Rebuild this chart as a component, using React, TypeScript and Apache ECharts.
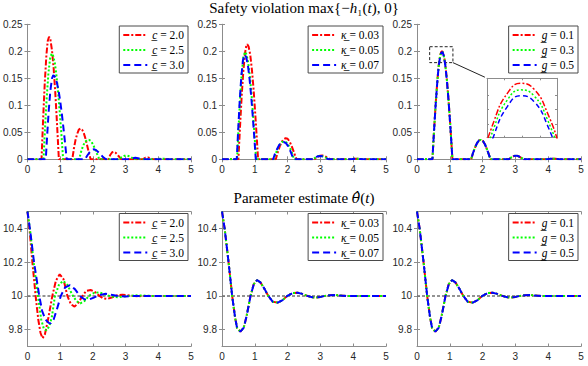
import React, { useEffect, useRef } from 'react';
import * as echarts from 'echarts';

const W = 588;
const H = 366;

// ---------- tick labels ----------
const timeTicks = [0, 1, 2, 3, 4, 5];
const violTicks = [0, 0.05, 0.1, 0.15, 0.2, 0.25];
const thetaTicks = [9.8, 10, 10.2, 10.4];
const thetaTrue = 10;

// ---------- legend labels ----------
const cValues = ['2.0', '2.5', '3.0'];
const kappaValues = ['0.03', '0.05', '0.07'];
const gValues = ['0.1', '0.3', '0.5'];

// ---------- safety violation max{-h1(t),0}: varying c ----------
const violC20 = [[0,0],[0.43,0],[0.48,0.076],[0.53,0.143],[0.58,0.194],[0.62,0.219],[0.66,0.227],[0.70,0.222],[0.75,0.202],[0.80,0.169],[0.85,0.124],[0.90,0.070],[0.93,0.035],[0.96,0],
  [1.37,0],[1.42,0.020],[1.47,0.036],[1.52,0.047],[1.57,0.055],[1.62,0.057],[1.67,0.055],[1.72,0.049],[1.77,0.039],[1.82,0.027],[1.87,0.014],[1.93,0],
  [2.47,0],[2.53,0.008],[2.59,0.013],[2.64,0.014],[2.70,0.012],[2.77,0.007],[2.84,0.002],[2.88,0],
  [3.52,0],[3.60,0.0028],[3.68,0.0035],[3.76,0.0022],[3.84,0],[5,0]];
const violC25 = [[0,0],[0.49,0],[0.54,0.061],[0.59,0.115],[0.64,0.159],[0.69,0.186],[0.74,0.196],[0.79,0.191],[0.84,0.177],[0.89,0.153],[0.94,0.122],[0.99,0.085],[1.04,0.044],[1.09,0],
  [1.58,0],[1.64,0.014],[1.70,0.025],[1.76,0.032],[1.82,0.0355],[1.88,0.036],[1.94,0.034],[2.00,0.028],[2.06,0.020],[2.12,0.011],[2.20,0],
  [2.80,0],[2.88,0.004],[2.96,0.0065],[3.04,0.007],[3.12,0.0055],[3.20,0.0025],[3.27,0],
  [3.95,0],[4.05,0.001],[4.15,0.0012],[4.25,0.0007],[4.33,0],[5,0]];
const violC30 = [[0,0],[0.56,0],[0.60,0.042],[0.65,0.090],[0.70,0.127],[0.75,0.150],[0.79,0.156],[0.85,0.152],[0.90,0.142],[0.95,0.128],[1.00,0.108],[1.05,0.085],[1.10,0.058],[1.15,0.030],[1.20,0],
  [1.76,0],[1.83,0.007],[1.90,0.013],[1.96,0.017],[2.03,0.0185],[2.10,0.017],[2.17,0.013],[2.24,0.009],[2.31,0.004],[2.40,0],
  [3.12,0],[3.22,0.002],[3.30,0.003],[3.38,0.002],[3.48,0],[5,0]];

// ---------- safety violation: varying kappa ----------
const violK003 = [[0,0],[0.50,0],[0.55,0.061],[0.60,0.117],[0.65,0.163],[0.70,0.196],[0.74,0.210],[0.77,0.213],[0.81,0.209],[0.86,0.194],[0.91,0.167],[0.96,0.132],[1.01,0.088],[1.06,0.040],[1.10,0],
  [1.64,0],[1.70,0.013],[1.76,0.024],[1.82,0.032],[1.88,0.037],[1.94,0.039],[2.00,0.038],[2.06,0.033],[2.12,0.025],[2.18,0.015],[2.27,0],
  [2.82,0],[2.90,0.004],[2.98,0.0065],[3.06,0.0072],[3.14,0.0058],[3.22,0.003],[3.30,0],
  [3.92,0],[4.02,0.0008],[4.12,0.0012],[4.22,0.0008],[4.32,0],[5,0]];
const violK005 = [[0,0],[0.46,0],[0.50,0.052],[0.55,0.111],[0.60,0.158],[0.65,0.188],[0.70,0.199],[0.75,0.194],[0.80,0.178],[0.85,0.153],[0.90,0.120],[0.95,0.080],[1.00,0.037],[1.04,0],
  [1.58,0],[1.64,0.011],[1.70,0.020],[1.76,0.027],[1.83,0.032],[1.90,0.033],[1.97,0.031],[2.04,0.025],[2.10,0.017],[2.15,0.009],[2.20,0],
  [2.78,0],[2.86,0.0037],[2.94,0.006],[3.02,0.0065],[3.10,0.005],[3.18,0.0025],[3.26,0],
  [3.90,0],[4.00,0.0008],[4.10,0.0011],[4.20,0.0007],[4.30,0],[5,0]];
const violK007 = [[0,0],[0.45,0],[0.49,0.050],[0.54,0.108],[0.59,0.154],[0.64,0.184],[0.69,0.194],[0.74,0.189],[0.79,0.174],[0.84,0.149],[0.89,0.117],[0.94,0.078],[0.99,0.036],[1.03,0],
  [1.56,0],[1.62,0.011],[1.68,0.019],[1.74,0.026],[1.81,0.031],[1.88,0.032],[1.95,0.030],[2.02,0.024],[2.08,0.016],[2.13,0.008],[2.18,0],
  [2.77,0],[2.85,0.0035],[2.93,0.0058],[3.01,0.0062],[3.09,0.0048],[3.17,0.0024],[3.25,0],
  [3.90,0],[4.00,0.0007],[4.10,0.001],[4.20,0.0007],[4.30,0],[5,0]];

// ---------- safety violation: varying g ----------
const violG01 = [[0,0],[0.47,0],[0.52,0.054],[0.57,0.103],[0.62,0.145],[0.66,0.173],[0.70,0.1900],[0.72,0.1955],[0.74,0.1988],[0.76,0.2000],[0.78,0.1993],[0.80,0.1965],[0.82,0.1917],[0.86,0.1770],[0.91,0.148],[0.96,0.111],[1.01,0.0675],[1.05,0.0294],[1.08,0],
  [1.65,0],[1.71,0.012],[1.77,0.022],[1.83,0.030],[1.89,0.035],[1.95,0.036],[2.01,0.034],[2.07,0.028],[2.13,0.019],[2.19,0.009],[2.24,0],
  [2.80,0],[2.88,0.0038],[2.96,0.0062],[3.03,0.0068],[3.10,0.0055],[3.18,0.0028],[3.26,0],
  [3.95,0],[4.05,0.0008],[4.15,0.0012],[4.25,0.0008],[4.35,0],[5,0]];
const violG03 = [[0,0],[0.47,0],[0.52,0.0535],[0.57,0.1026],[0.62,0.1444],[0.66,0.1723],[0.70,0.1892],[0.72,0.1947],[0.74,0.1980],[0.76,0.1992],[0.78,0.1985],[0.80,0.1957],[0.82,0.1909],[0.86,0.1763],[0.91,0.1474],[0.96,0.1106],[1.01,0.0672],[1.05,0.0293],[1.08,0],
  [1.65,0],[1.71,0.012],[1.77,0.022],[1.83,0.030],[1.89,0.035],[1.95,0.036],[2.01,0.034],[2.07,0.028],[2.13,0.019],[2.19,0.009],[2.24,0],
  [2.80,0],[2.88,0.0038],[2.96,0.0062],[3.03,0.0068],[3.10,0.0055],[3.18,0.0028],[3.26,0],
  [3.95,0],[4.05,0.0008],[4.15,0.0012],[4.25,0.0008],[4.35,0],[5,0]];
const violG05 = [[0,0],[0.47,0],[0.52,0.0532],[0.57,0.1022],[0.62,0.1439],[0.66,0.1717],[0.70,0.1884],[0.72,0.1938],[0.74,0.1972],[0.76,0.1985],[0.78,0.1978],[0.80,0.1950],[0.82,0.1902],[0.86,0.1756],[0.91,0.1469],[0.96,0.1102],[1.01,0.0670],[1.05,0.0292],[1.08,0],
  [1.65,0],[1.71,0.012],[1.77,0.022],[1.83,0.030],[1.89,0.035],[1.95,0.036],[2.01,0.034],[2.07,0.028],[2.13,0.019],[2.19,0.009],[2.24,0],
  [2.80,0],[2.88,0.0038],[2.96,0.0062],[3.03,0.0068],[3.10,0.0055],[3.18,0.0028],[3.26,0],
  [3.95,0],[4.05,0.0008],[4.15,0.0012],[4.25,0.0008],[4.35,0],[5,0]];

// ---------- parameter estimate theta_hat(t): varying c ----------
const thetaC20 = [[0,10.5],[0.07,10.38],[0.15,10.2],[0.25,10.0],[0.33,9.86],[0.40,9.78],[0.46,9.749],[0.53,9.77],[0.62,9.85],[0.76,10.0],[0.87,10.09],[0.985,10.128],[1.10,10.10],[1.22,10.0],[1.33,9.95],[1.44,9.936],[1.56,9.96],[1.68,10.0],[1.80,10.03],[1.93,10.035],[2.05,10.025],[2.20,10.0],[2.32,9.985],[2.44,9.982],[2.60,9.992],[2.75,10.004],[2.90,10.007],[3.05,10.004],[3.20,10.0],[3.40,9.998],[3.60,10.0],[5,10.0]];
const thetaC25 = [[0,10.5],[0.08,10.39],[0.20,10.18],[0.32,10.0],[0.42,9.86],[0.50,9.805],[0.58,9.795],[0.67,9.82],[0.75,9.88],[0.84,10.0],[0.97,10.07],[1.10,10.088],[1.22,10.065],[1.39,10.0],[1.50,9.968],[1.62,9.956],[1.75,9.97],[1.88,10.0],[2.03,10.017],[2.18,10.021],[2.33,10.012],[2.50,10.0],[2.65,9.993],[2.80,9.992],[2.95,9.996],[3.10,10.0],[3.30,10.003],[3.50,10.002],[3.80,10.0],[5,10.0]];
const thetaC30 = [[0,10.5],[0.08,10.39],[0.20,10.2],[0.36,10.0],[0.45,9.91],[0.55,9.86],[0.65,9.84],[0.71,9.837],[0.80,9.86],[0.90,9.92],[1.02,10.0],[1.15,10.05],[1.30,10.064],[1.45,10.04],[1.60,10.0],[1.74,9.98],[1.88,9.978],[2.03,9.99],[2.20,10.005],[2.39,10.012],[2.60,10.005],[2.80,9.998],[3.00,9.997],[3.30,10.0],[5,10.0]];

// ---------- theta_hat(t) with varying kappa and g (the three curves coincide) ----------
const thetaNominal = [[0,10.5],[0.08,10.4],[0.20,10.2],[0.31,10.0],[0.40,9.87],[0.46,9.81],[0.56,9.788],[0.66,9.81],[0.75,9.88],[0.87,10.0],[0.97,10.07],[1.07,10.094],[1.17,10.08],[1.30,10.04],[1.41,10.0],[1.55,9.965],[1.70,9.96],[1.85,9.975],[1.99,10.0],[2.15,10.016],[2.30,10.019],[2.45,10.012],[2.60,10.0],[2.75,9.992],[2.86,9.99],[3.00,9.994],[3.15,10.0],[3.30,10.004],[3.45,10.005],[3.60,10.002],[3.80,9.999],[4.00,9.999],[4.30,10.0],[5,10.0]];
const thetaK003 = thetaNominal;
const thetaK005 = thetaNominal;
const thetaK007 = thetaNominal;
const thetaG01 = thetaNominal;
const thetaG03 = thetaNominal;
const thetaG05 = thetaNominal;

// ---------- zoom inset window (data range shown in the inset) ----------
const insetX = [0.709, 0.815];
const insetY = [0.1934, 0.2006];
const insetXTicks = [0.735, 0.762, 0.789];
const insetYTicks = [0.195, 0.1968, 0.1986];
const zoomBox = [[0.386, 0.2085], [1.095, 0.179]];
const zoomArrow = [[1.095, 0.179], [2.07, 0.152]];

const COLORS = ['#ff0000', '#00ff00', '#0000ff'];
const DASHES: number[][] = [[6, 2, 2, 2], [2, 2], [7, 4]];
const AXIS = '#8c8c8c';
const TXT = '#262626';
const SERIF = '"Liberation Serif", "DejaVu Serif", serif';
const SANS = '"Liberation Sans", Arial, sans-serif';

const colLeft = [27, 222, 417];
const PW = 164;
const rowTop = [24.3, 211.5];
const PH = 135;

const mkNames = (sym: string, vals: string[]) => vals.map((v) => `${sym}\u0332 = ${v}`);
const cNames = mkNames('c', cValues);
const kNames = mkNames('\u03ba', kappaValues);
const gNames = mkNames('g', gValues);

const panels = [
  { names: cNames, data: [violC20, violC25, violC30], row: 0 },
  { names: kNames, data: [violK003, violK005, violK007], row: 0 },
  { names: gNames, data: [violG01, violG03, violG05], row: 0 },
  { names: cNames, data: [thetaC20, thetaC25, thetaC30], row: 1 },
  { names: kNames, data: [thetaK003, thetaK005, thetaK007], row: 1 },
  { names: gNames, data: [thetaG01, thetaG03, thetaG05], row: 1 },
];

function buildOption() {
  const grid: any[] = [];
  const xAxis: any[] = [];
  const yAxis: any[] = [];
  const series: any[] = [];
  const legend: any[] = [];

  const lineAx = { show: true, lineStyle: { color: AXIS, width: 1 } };
  const tickIn = { show: true, inside: true, length: 3, lineStyle: { color: AXIS, width: 1 } };
  const lbl = { color: TXT, fontSize: 10, fontFamily: SANS, margin: 5 };

  panels.forEach((p, i) => {
    const col = i % 3;
    grid.push({ left: colLeft[col], top: rowTop[p.row], width: PW, height: PH });
    const xBase = { type: 'value', gridIndex: i, min: timeTicks[0], max: timeTicks[timeTicks.length - 1], interval: 1, splitLine: { show: false }, axisLine: lineAx };
    xAxis.push({ ...xBase, position: 'bottom', axisTick: tickIn, axisLabel: lbl });
    xAxis.push({ ...xBase, position: 'top', axisTick: tickIn, axisLabel: { show: false } });
    const yBase =
      p.row === 0
        ? { type: 'value', gridIndex: i, min: violTicks[0], max: violTicks[violTicks.length - 1], interval: 0.05, splitLine: { show: false }, axisLine: lineAx }
        : { type: 'value', gridIndex: i, min: 9.7, max: 10.5, splitLine: { show: false }, axisLine: lineAx };
    const tick = p.row === 0 ? tickIn : { ...tickIn, customValues: thetaTicks };
    const lab = p.row === 0 ? lbl : { ...lbl, customValues: thetaTicks };
    yAxis.push({ ...yBase, position: 'left', axisTick: tick, axisLabel: lab });
    yAxis.push({ ...yBase, position: 'right', axisTick: tick, axisLabel: { show: false } });

    if (p.row === 1) {
      series.push({
        type: 'line', xAxisIndex: 2 * i, yAxisIndex: 2 * i, name: 'true',
        data: [[0, thetaTrue], [5, thetaTrue]], symbol: 'none', silent: true,
        lineStyle: { color: '#707070', width: 1.5, type: [3, 2] }, z: 1,
      });
    }
    p.names.forEach((nm, k) => {
      const s: any = {
        type: 'line', name: nm, xAxisIndex: 2 * i, yAxisIndex: 2 * i,
        data: p.data[k], symbol: 'none', showSymbol: false, silent: true,
        lineStyle: { color: COLORS[k], width: 2, type: DASHES[k] },
        itemStyle: { color: COLORS[k] }, z: 2 + k,
      };
      if (i === 2 && k === 2) {
        s.markArea = {
          silent: true,
          itemStyle: { color: 'rgba(0,0,0,0)', borderColor: '#222', borderWidth: 1, borderType: [3, 2] },
          data: [[{ coord: zoomBox[0] }, { coord: zoomBox[1] }]],
        };
        s.markLine = {
          silent: true, symbol: ['none', 'arrow'], symbolSize: [0, 7],
          label: { show: false }, lineStyle: { color: '#222', width: 1, type: 'solid' },
          data: [[{ coord: zoomArrow[0] }, { coord: zoomArrow[1] }]],
        };
      }
      series.push(s);
    });

    legend.push({
      data: p.names, orient: 'vertical', selectedMode: false,
      right: W - (colLeft[col] + PW - 3), top: p.row === 0 ? 26 : 213.5,
      itemWidth: 24, itemHeight: 10, itemGap: 3, padding: [3, 4, 2, 3],
      backgroundColor: '#fff', borderColor: '#4a4a4a', borderWidth: 1, borderRadius: 0,
      itemStyle: { color: 'rgba(0,0,0,0)', borderColor: 'rgba(0,0,0,0)', borderWidth: 0, opacity: 0 },
      formatter: (name: string) => {
        const [a, b] = name.split(' = ');
        return `{i|${a}}{n| = ${b}}`;
      },
      textStyle: {
        color: '#000', fontFamily: SERIF, fontSize: 11.5, padding: [0, 0, 0, 0],
        rich: {
          i: { fontFamily: SERIF, fontSize: 11.5, fontStyle: 'italic', color: '#000' },
          n: { fontFamily: SERIF, fontSize: 11.5, color: '#000' },
        },
      },
    });
  });

  // inset grid (zoom of panel 3's first peak)
  const gi = 6;
  grid.push({ left: 487, top: 78.3, width: 70, height: 59.4, show: true, backgroundColor: '#fff', borderWidth: 0, z: 5 });
  const ixBase = { type: 'value', gridIndex: gi, min: insetX[0], max: insetX[1], splitLine: { show: false }, axisLine: lineAx, axisLabel: { show: false }, axisTick: { ...tickIn, length: 2, customValues: insetXTicks }, z: 6 };
  const iyBase = { type: 'value', gridIndex: gi, min: insetY[0], max: insetY[1], splitLine: { show: false }, axisLine: lineAx, axisLabel: { show: false }, axisTick: { ...tickIn, length: 2, customValues: insetYTicks }, z: 6 };
  xAxis.push({ ...ixBase, position: 'bottom' });
  xAxis.push({ ...ixBase, position: 'top' });
  yAxis.push({ ...iyBase, position: 'left' });
  yAxis.push({ ...iyBase, position: 'right' });
  panels[2].data.forEach((d, k) => {
    series.push({
      type: 'line', name: panels[2].names[k], xAxisIndex: 12, yAxisIndex: 12, data: d,
      symbol: 'none', showSymbol: false, smooth: 0.5, silent: true, clip: true,
      lineStyle: { color: COLORS[k], width: 1.5, type: k === 2 ? [5, 3] : DASHES[k] }, z: 7 + k,
    });
  });

  const titleRich = {
    n: { fontFamily: SERIF, fontSize: 15, color: '#000' },
    i: { fontFamily: SERIF, fontSize: 15, fontStyle: 'italic', color: '#000' },
    h: { fontFamily: '"DejaVu Serif", serif', fontSize: 14, fontStyle: 'italic', color: '#000' },
  };
  const title = [
    {
      text: '{n|Safety violation max{\u2212}{i|h}{n|\u2081(}{i|t}{n|), 0}}',
      left: 304, top: 0, textAlign: 'center', padding: 0,
      textStyle: { fontFamily: SERIF, fontSize: 15, fontWeight: 'normal', color: '#000', rich: titleRich },
    },
    {
      text: '{n|Parameter estimate }{h|\u03b8\u0302}{n|(}{i|t}{n|)}',
      left: 304, top: 190, textAlign: 'center', padding: 0,
      textStyle: { fontFamily: SERIF, fontSize: 15, fontWeight: 'normal', color: '#000', rich: titleRich },
    },
  ];

  return {
    animation: false,
    backgroundColor: '#fff',
    textStyle: { fontFamily: SANS },
    title, grid, xAxis, yAxis, series, legend,
  };
}

export default function App() {
  const ref = useRef<HTMLDivElement>(null);
  useEffect(() => {
    const chart = echarts.init(ref.current!, null, { renderer: 'svg', width: W, height: H });
    chart.setOption(buildOption() as any);
    return () => chart.dispose();
  }, []);
  return (
    <div
      ref={ref}
      style={{ position: 'absolute', left: 0, top: 0, width: W, height: H, background: '#fff' }}
    />
  );
}
